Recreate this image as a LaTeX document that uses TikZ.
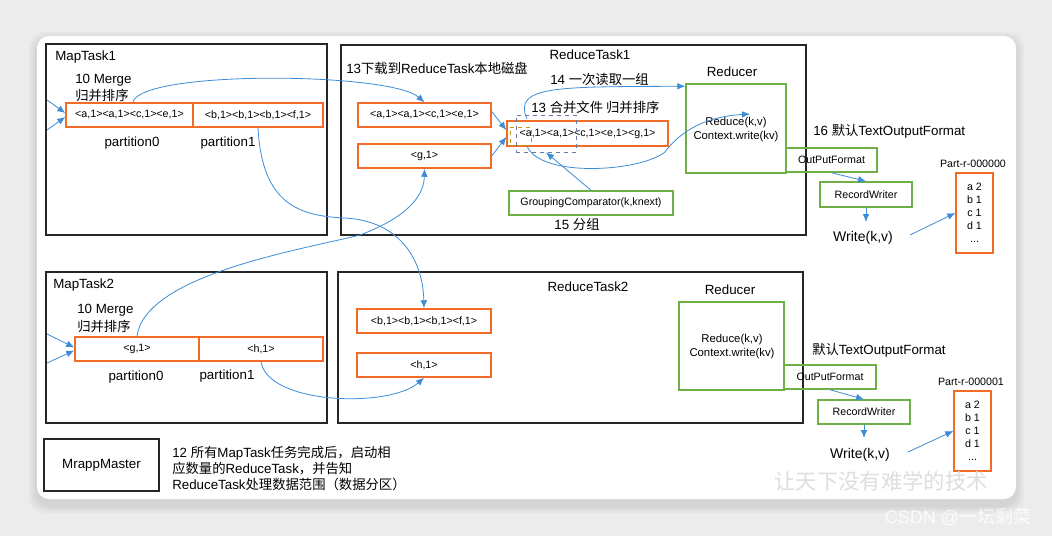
\documentclass[tikz,border=0pt]{standalone}
\usepackage{fontspec}
\setmainfont{Liberation Sans}
\newfontfamily\cjk{Noto Sans CJK SC}
\newcommand\zh[1]{{\cjk #1}}
\usetikzlibrary{arrows.meta,fit}
\definecolor{orng}{RGB}{242,108,40}
\definecolor{grn}{RGB}{110,176,70}
\definecolor{arr}{RGB}{60,140,215}
\definecolor{bgc}{RGB}{236,236,236}
\definecolor{dashblue}{RGB}{100,125,160}
\definecolor{dashyel}{RGB}{200,150,0}
\begin{document}
\begin{tikzpicture}[x=0.75pt,y=-0.75pt,
  task/.style={draw=black!85, line width=1.1pt, inner sep=0pt},
  obox/.style={draw=orng, line width=1.1pt, inner sep=0pt},
  gbox/.style={draw=grn, line width=1.1pt, inner sep=0pt},
  lbl/.style={inner sep=0pt, font=\fontsize{10}{12}\selectfont},
  small/.style={inner sep=0pt, font=\fontsize{8}{9}\selectfont},
  mid/.style={inner sep=0pt, align=center, font=\fontsize{8.5}{10.5}\selectfont},
  partt/.style={inner sep=0pt, align=center, font=\fontsize{8}{9.75}\selectfont},
  flow/.style={draw=arr, line width=0.6pt, -{Latex[length=6pt,width=5pt]}},
]
\useasboundingbox (0,0) rectangle (1052,536);
\fill[bgc] (0,0) rectangle (1052,536);
\foreach \d in {2,4,6,8}
  \fill[black, opacity=0.025, rounded corners=12pt] (37-\d,36-\d+4) rectangle (1016+\d,499+\d+6);
\fill[white, rounded corners=9pt] (37,36) rectangle (1016,499);

% ---------- MapTask1 ----------
\node[task, fit={(46,44) (327,235)}] (mt1) {};
\node[lbl, anchor=base west] (mt1l) at (55,60) {MapTask1};
\node[lbl, anchor=base west] (mg1a) at (75,83) {10 Merge};
\node[lbl, anchor=base west] (mg1b) at (75,100) {\zh{归并排序}};
\node[obox, fit={(66,103) (193,127)}] (m1a) {};
\node[small] (m1at) at (m1a.center) {<a,1><a,1><c,1><e,1>};
\node[obox, fit={(193,103) (323,127)}] (m1b) {};
\node[small] (m1bt) at (m1b.center) {<b,1><b,1><b,1><f,1>};
\node[lbl, anchor=base] (p10) at (132,146) {partition0};
\node[lbl, anchor=base] (p11) at (228,146) {partition1};
\coordinate (in1a) at (47,100);
\coordinate (in1b) at (47,130);
\draw[flow] (in1a) -- ([yshift=1.5pt]m1a.west);
\draw[flow] (in1b) -- ([yshift=-1.5pt]m1a.west);

% ---------- MapTask2 ----------
\node[task, fit={(46,272) (327,423)}] (mt2) {};
\node[lbl, anchor=base west] (mt2l) at (53,288) {MapTask2};
\node[lbl, anchor=base west] (mg2a) at (77,313) {10 Merge};
\node[lbl, anchor=base west] (mg2b) at (77,331) {\zh{归并排序}};
\node[obox, fit={(75,337) (199,361)}] (m2a) {};
\node[small] (m2at) at (m2a.center) {<g,1>};
\node[obox, fit={(199,337) (323,361)}] (m2b) {};
\node[small] (m2bt) at (m2b.center) {<h,1>};
\node[lbl, anchor=base] (p20) at (136,380) {partition0};
\node[lbl, anchor=base] (p21) at (227,379) {partition1};
\coordinate (in2a) at (47,334);
\coordinate (in2b) at (47,363);
\draw[flow] (in2a) -- ([yshift=1.2pt]m2a.west);
\draw[flow] (in2b) -- ([yshift=-1.2pt]m2a.west);

% ---------- ReduceTask1 ----------
\node[task, fit={(341,45) (806,235)}] (rt1) {};
\node[lbl, anchor=base] (rt1l) at (590,59) {ReduceTask1};
\node[lbl, anchor=base west] (dl1) at (346,73) {13\zh{下载到}ReduceTask\zh{本地磁盘}};
\node[lbl, anchor=base west] (rd14) at (550,84) {14 \zh{一次读取一组}};
\node[lbl, anchor=base west] (mg13) at (531,112) {13 \zh{合并文件 归并排序}};
\node[obox, fit={(358,103) (491,127)}] (r1a) {};
\node[small] (r1at) at (r1a.center) {<a,1><a,1><c,1><e,1>};
\node[obox, fit={(358,144) (491,168)}] (r1b) {};
\node[small] (r1bt) at (r1b.center) {<g,1>};
\node[obox, fit={(507,121) (668,146)}] (r1m) {};
\node[small] (r1mt) at (r1m.center) {<a,1><a,1><c,1><e,1><g,1>};
\node[draw=dashblue, dashed, line width=0.6pt, inner sep=0pt, fit={(516,115) (576,152)}] (dsh) {};
\node[draw=dashyel, dashed, line width=0.6pt, inner sep=0pt, fit={(510,127) (531,145)}] (dsy) {};
\node[gbox, fit={(509,191) (673,215)}] (gc) {};
\node[small] (gct) at (gc.center) {GroupingComparator(k,knext)};
\node[lbl, anchor=base] (fz15) at (577,229) {15 \zh{分组}};
\node[lbl, anchor=base] (red1l) at (732,76) {Reducer};
\node[gbox, fit={(686,84) (786,173)}] (red1) {};
\node[mid] (red1t) at (736,130) {Reduce(k,v)\\Context.write(kv)};
\node[gbox, fit={(786,148) (877,172)}] (of1) {};
\node[small] (of1t) at (of1.center) {OutPutFormat};
\node[lbl, anchor=base west] (tof1) at (813,135) {16 \zh{默认}TextOutputFormat};
\node[gbox, fit={(820,182) (912,207)}] (rw1) {};
\node[small] (rw1t) at (rw1.center) {RecordWriter};
\node[inner sep=0pt, font=\fontsize{10.5}{12}\selectfont, anchor=base] (wr1) at (863,241) {Write(k,v)};
\node[small, anchor=base] (pn1) at (973,167) {Part-r-000000};
\node[obox, fit={(956,173) (993,253)}] (pf1) {};
\node[partt] (pf1t) at (pf1.center) {a 2\\b 1\\c 1\\d 1\\...};

\draw[flow] ([yshift=2.6pt]r1a.east) -- ([yshift=2.6pt]r1m.west);
\draw[flow] (r1b.east) -- ([yshift=-2.6pt]r1m.west);
\draw[flow] (gc.north) -- (dsh.south);
\coordinate (s14) at (527,119);
\draw[flow] (s14) .. controls (512,85) and (560,87) .. ([yshift=-2.2pt]red1.north west);
\coordinate (s15) at (527,146);
\coordinate (t15) at (750,114);
\draw[flow] (s15) .. controls (540,178) and (640,172) .. (665,152) .. controls (685,125) and (715,116) .. (t15);
\draw[flow] (of1.south) -- (rw1.north);
\coordinate (w1) at (866,222);
\draw[flow] (rw1.south) -- (w1);
\coordinate (w1e) at (910,235);
\draw[flow] (w1e) -- (pf1.west);

% ---------- ReduceTask2 ----------
\node[task, fit={(338,272) (803,423)}] (rt2) {};
\node[lbl, anchor=base] (rt2l) at (588,291) {ReduceTask2};
\node[obox, fit={(357,309) (491,333)}] (r2a) {};
\node[small] (r2at) at (r2a.center) {<b,1><b,1><b,1><f,1>};
\node[obox, fit={(357,353) (491,377)}] (r2b) {};
\node[small] (r2bt) at (r2b.center) {<h,1>};
\node[lbl, anchor=base] (red2l) at (730,294) {Reducer};
\node[gbox, fit={(679,302) (784,390)}] (red2) {};
\node[mid] (red2t) at (732,347) {Reduce(k,v)\\Context.write(kv)};
\node[lbl, anchor=base west] (tof2) at (812,354) {\zh{默认}TextOutputFormat};
\node[gbox, fit={(784,365) (876,389)}] (of2) {};
\node[small] (of2t) at (of2.center) {OutPutFormat};
\node[gbox, fit={(818,400) (910,424)}] (rw2) {};
\node[small] (rw2t) at (rw2.center) {RecordWriter};
\node[inner sep=0pt, font=\fontsize{10.5}{12}\selectfont, anchor=base] (wr2) at (860,458) {Write(k,v)};
\node[small, anchor=base] (pn2) at (971,385) {Part-r-000001};
\node[obox, fit={(954,391) (991,471)}] (pf2) {};
\node[partt] (pf2t) at (pf2.center) {a 2\\b 1\\c 1\\d 1\\...};
\draw[flow] (of2.south) -- (rw2.north);
\coordinate (w2) at (864,438);
\draw[flow] (rw2.south) -- (w2);
\coordinate (w2e) at (908,452);
\draw[flow] (w2e) -- (pf2.west);

% ---------- cross connectors ----------
\draw[flow] ([xshift=2.6pt]m1a.north) .. controls (140,70) and (390,72) .. (r1a.north);
\draw[flow] (m1b.south) .. controls (262,205) and (300,216) .. (345,218) .. controls (400,221) and (423,260) .. (r2a.north);
\draw[flow] (m2a.north) .. controls (145,275) and (300,250) .. (360,235) .. controls (400,220) and (424,200) .. (r1b.south);
\draw[flow] (m2b.south) .. controls (268,405) and (390,408) .. (r2b.south);

% ---------- MrappMaster ----------
\node[task, fit={(44,439) (159,491)}] (mm) {};
\node[lbl] (mmt) at (mm.center) {MrappMaster};
\node[lbl, anchor=base west] (ml1) at (172,457) {12 \zh{所有}MapTask\zh{任务完成后，启动相}};
\node[lbl, anchor=base west] (ml2) at (172,473) {\zh{应数量的}ReduceTask\zh{，并告知}};
\node[lbl, anchor=base west] (ml3) at (172,489) {ReduceTask\zh{处理数据范围（数据分区）}};

% ---------- watermarks ----------
\node[inner sep=0pt, text=black!13, font=\cjk\fontsize{16}{18}\selectfont] (wm1) at (881,481) {让天下没有难学的技术};
\node[inner sep=0pt, text=white, opacity=0.8, font=\fontsize{13.5}{15}\selectfont] (wm2) at (958,517) {CSDN @\zh{一坛剩菜}};
\end{tikzpicture}
\end{document}
